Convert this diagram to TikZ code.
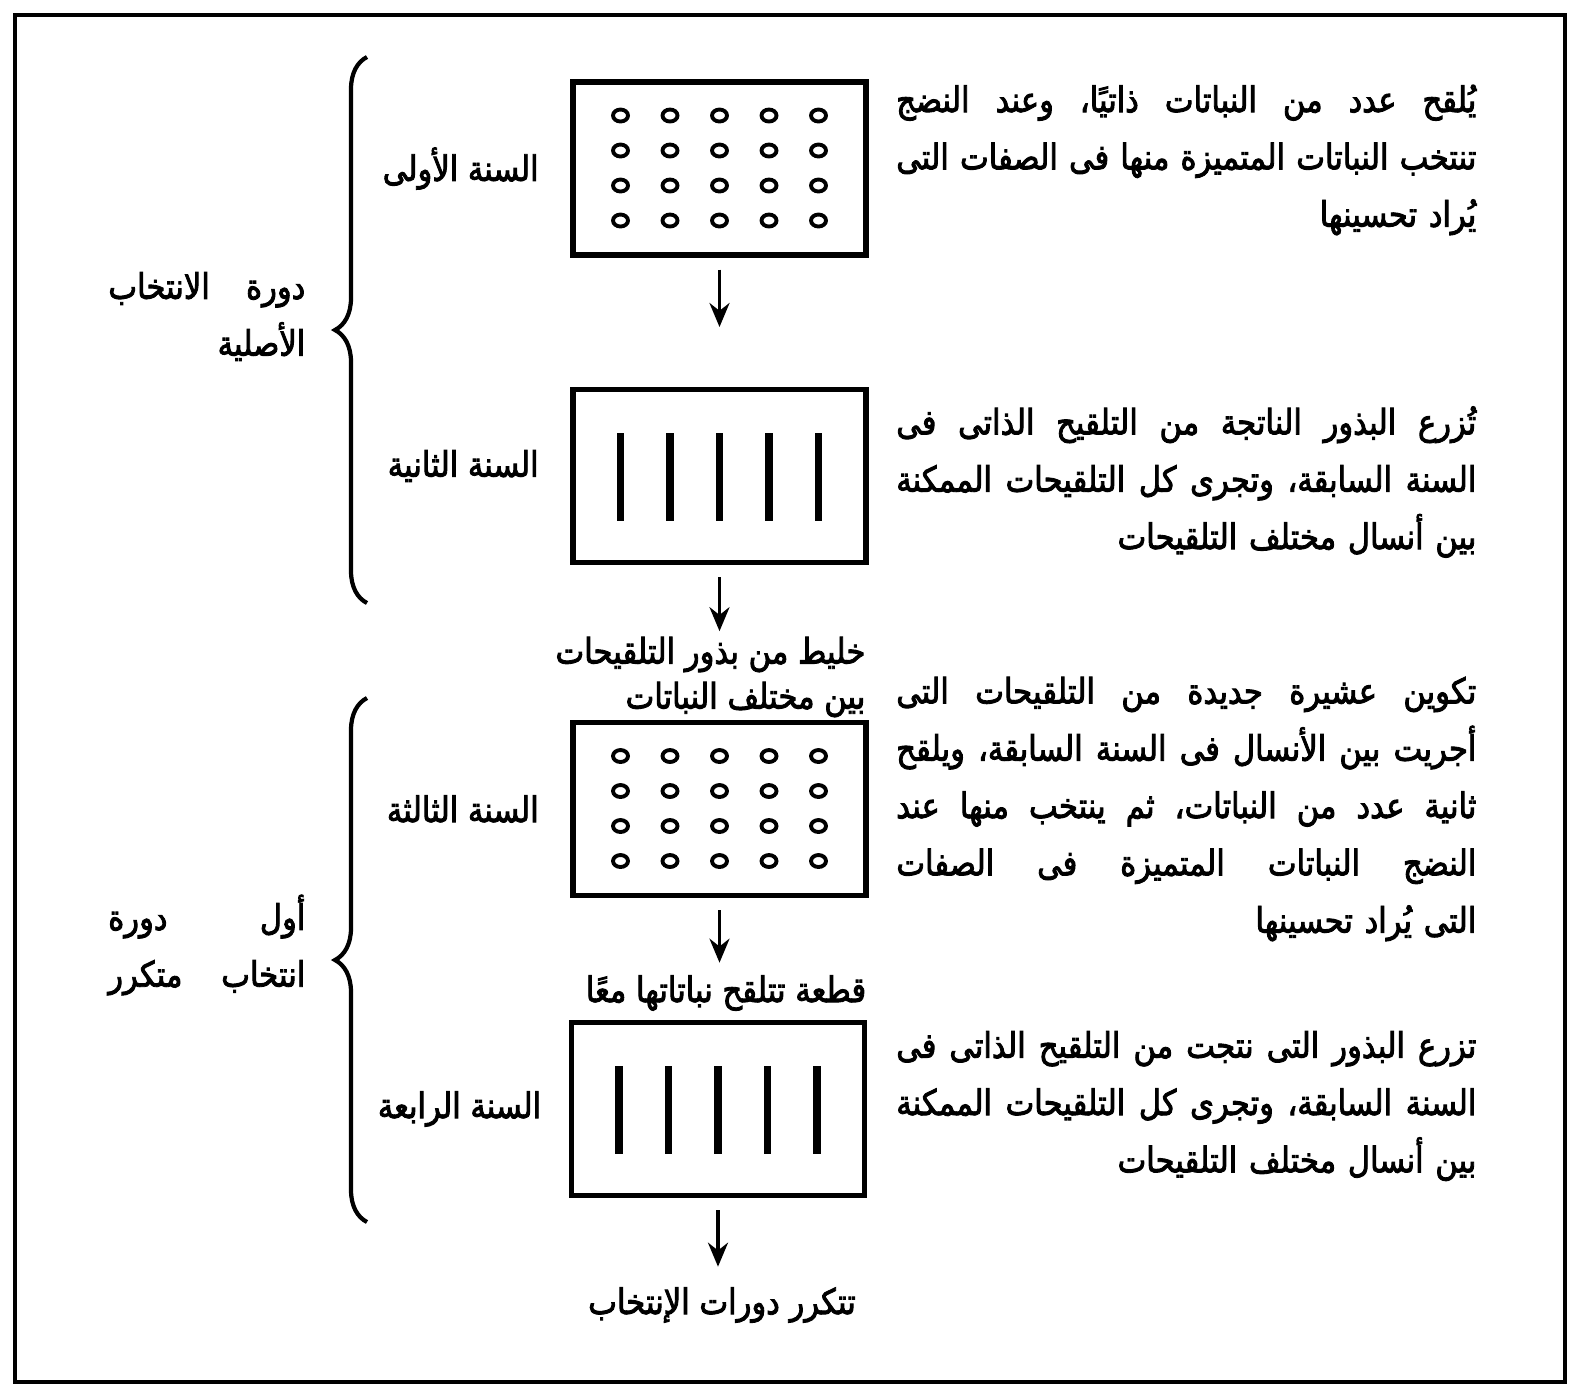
\documentclass[tikz,border=0pt]{standalone}
\usepackage{fontspec}
\usetikzlibrary{arrows.meta,decorations.pathreplacing}
\newfontfamily\arabicfont[Script=Arabic,FakeBold=2.5,FakeStretch=0.87]{DejaVu Sans}
\TeXXeTstate=1
\newlength\notew \setlength\notew{5.8cm}
\newlength\cyclew \setlength\cyclew{1.97cm}
\newcommand\ar[1]{{\arabicfont\beginR #1\endR}}
% a line spread over the full width, spaces take up the slack
\newcommand\fullline[2][\notew]{\makebox[#1][s]{\arabicfont\spaceskip=0.3em plus 1fil\relax\beginR #2\endR}}

\begin{document}
\begin{tikzpicture}
\tikzstyle{fieldbox} = [draw=black, line width=1.5pt, minimum width=2.93cm, minimum height=1.73cm, inner sep=0pt]
\tikzstyle{plantdot} = [draw=black, line width=1.1pt]
\tikzstyle{plantrow} = [draw=black, line width=2pt]
\tikzstyle{flow} = [draw=black, line width=1pt, -{Stealth[length=2.4mm,width=2mm]}, shorten <=0.12cm]
\tikzstyle{yearlabel} = [font=\fontsize{10}{12}\selectfont, inner sep=0pt]
\tikzstyle{notetext} = [font=\fontsize{10}{16.3}\selectfont, text width=\notew, align=right, inner sep=0pt]
\tikzstyle{steplabel} = [font=\fontsize{10}{12.8}\selectfont, align=right, inner sep=0pt]
\tikzstyle{cyclelabel} = [font=\fontsize{10}{16.2}\selectfont, text width=\cyclew, align=right, inner sep=0pt]
\tikzstyle{cyclebrace} = [draw=black, line width=1.2pt, decorate, decoration={brace, amplitude=0.32cm}]

\useasboundingbox (0,0) rectangle (15.76,-13.93);
\draw[line width=1.3pt] (0.15,-0.15) rectangle (15.65,-13.82);

% the four yearly fields
\node[fieldbox] (field1) at (7.195,-1.685) {};
\node[fieldbox] (field2) at (7.195,-4.76) {};
\node[fieldbox] (field3) at (7.195,-8.09) {};
\node[fieldbox] (field4) at (7.18,-11.09) {};

% single plants and progeny rows
\foreach \f in {field1,field3}
  \foreach \i in {-2,...,2}
    \foreach \j in {0.53,0.18,-0.17,-0.52}
      \draw[plantdot] ([shift={(\i*0.495,\j)}]\f.center) ellipse (0.075 and 0.06);
\foreach \f in {field2,field4}
  \foreach \i in {-2,...,2}
    \draw[plantrow] ([shift={(\i*0.495,0.43)}]\f.center) -- ([shift={(\i*0.495,-0.45)}]\f.center);

% years
\node[yearlabel, anchor=east] (year1) at ([xshift=-0.31cm]field1.west) {\ar{السنة الأولى}};
\node[yearlabel, anchor=east] (year2) at ([xshift=-0.31cm,yshift=0.1cm]field2.west) {\ar{السنة الثانية}};
\node[yearlabel, anchor=east] (year3) at ([xshift=-0.31cm]field3.west) {\ar{السنة الثالثة}};
\node[yearlabel, anchor=east] (year4) at ([xshift=-0.27cm]field4.west) {\ar{السنة الرابعة}};

% notes on the right
\node[notetext, anchor=east] (note1) at (14.77,-1.60) {%
  \fullline{يُلقح عدد من النباتات ذاتيًا، وعند النضج}\\
  \fullline{تنتخب النباتات المتميزة منها فى الصفات التى}\\
  \ar{يُراد تحسينها}};
\node[notetext, anchor=east] (note2) at (14.77,-4.82) {%
  \fullline{تُزرع البذور الناتجة من التلقيح الذاتى فى}\\
  \fullline{السنة السابقة، وتجرى كل التلقيحات الممكنة}\\
  \ar{بين أنسال مختلف التلقيحات}};
\node[notetext, anchor=east] (note3) at (14.77,-8.09) {%
  \fullline{تكوين عشيرة جديدة من التلقيحات التى}\\
  \fullline{أجريت بين الأنسال فى السنة السابقة، ويلقح}\\
  \fullline{ثانية عدد من النباتات، ثم ينتخب منها عند}\\
  \fullline{النضج النباتات المتميزة فى الصفات}\\
  \ar{التى يُراد تحسينها}};
\node[notetext, anchor=east] (note4) at (14.77,-11.06) {%
  \fullline{تزرع البذور التى نتجت من التلقيح الذاتى فى}\\
  \fullline{السنة السابقة، وتجرى كل التلقيحات الممكنة}\\
  \ar{بين أنسال مختلف التلقيحات}};

% what goes from one field to the next
\coordinate (gap1) at (7.195,-3.27);
\node[steplabel, anchor=east] (mix) at (8.66,-6.77) {\ar{خليط من بذور التلقيحات}\\ \ar{بين مختلف النباتات}};
\node[steplabel] (plot) at (7.26,-9.93) {\ar{قطعة تتلقح نباتاتها معًا}};
\node[steplabel] (repeat) at (7.22,-13.05) {\ar{تتكرر دورات الإنتخاب}};

\draw[flow] (field1.south) -- (gap1);
\draw[flow, shorten >=0.05cm] (field2.south) -- (field2.south |- mix.north);
\draw[flow, shorten >=0.12cm] (field3.south) -- (field3.south |- plot.north);
\draw[flow, shorten >=0.2cm] (field4.south) -- (field4.south |- repeat.north);

% selection cycles
\coordinate (c1top) at (3.67,-0.57);
\coordinate (c1bot) at (3.67,-6.03);
\coordinate (c2top) at (3.67,-6.98);
\coordinate (c2bot) at (3.67,-12.22);
\draw[cyclebrace] (c1bot) -- (c1top);
\draw[cyclebrace] (c2bot) -- (c2top);

\node[cyclelabel, anchor=east] (cycle1) at (3.06,-3.165) {\fullline[\cyclew]{دورة الانتخاب}\\ \ar{الأصلية}};
\node[cyclelabel, anchor=east] (cycle2) at (3.06,-9.45) {\fullline[\cyclew]{أول دورة}\\ \fullline[\cyclew]{انتخاب متكرر}};
\end{tikzpicture}
\end{document}
